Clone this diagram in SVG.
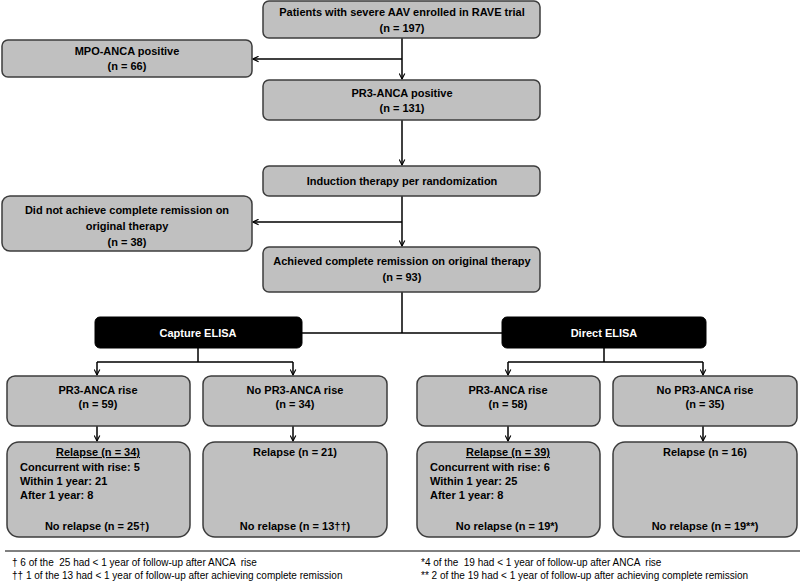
<svg xmlns="http://www.w3.org/2000/svg" width="800" height="581" viewBox="0 0 800 581">
<style>
.box{fill:#c0c0c0;stroke:#3c3c3c;stroke-width:1.5}
.blk{fill:#000;stroke:#000}
.t{font-family:"Liberation Sans",Arial,sans-serif;font-weight:bold;font-size:11px;fill:#000;text-anchor:middle}
.l{text-anchor:start}
.w{fill:#fff}
.fn{font-family:"Liberation Sans",Arial,sans-serif;font-size:10px;fill:#000}
.c{fill:none;stroke:#000;stroke-width:1.5}
</style>
<defs>
<marker id="ah" viewBox="0 0 10 10" refX="9" refY="5" markerWidth="7" markerHeight="7" markerUnits="userSpaceOnUse" orient="auto">
<path d="M1,1 L9,5 L1,9" fill="none" stroke="#000" stroke-width="1.6"/>
</marker>
</defs>
<rect width="800" height="581" fill="#fff"/>
<g id="connectors">
<path class="c" d="M402,38 V79" marker-end="url(#ah)"/>
<path class="c" d="M402,59 H253" marker-end="url(#ah)"/>
<path class="c" d="M402,120 V165" marker-end="url(#ah)"/>
<path class="c" d="M402,196 V246" marker-end="url(#ah)"/>
<path class="c" d="M402,222 H253" marker-end="url(#ah)"/>
<path class="c" d="M402,292 V333 M301,333 H502"/>
<path class="c" d="M198,348 V362 M97,362 H293"/>
<path class="c" d="M97,362 V375" marker-end="url(#ah)"/>
<path class="c" d="M293,362 V375" marker-end="url(#ah)"/>
<path class="c" d="M604,348 V362 M508,362 H703"/>
<path class="c" d="M508,362 V375" marker-end="url(#ah)"/>
<path class="c" d="M703,362 V375" marker-end="url(#ah)"/>
<path class="c" d="M97,426 V441" marker-end="url(#ah)"/>
<path class="c" d="M293,426 V441" marker-end="url(#ah)"/>
<path class="c" d="M508,426 V441" marker-end="url(#ah)"/>
<path class="c" d="M703,426 V441" marker-end="url(#ah)"/>
</g>
<g id="enrolled">
<rect class="box" x="263" y="1" width="277" height="37" rx="6"/>
<text class="t" x="402" y="16">Patients with severe AAV enrolled in RAVE trial</text>
<text class="t" x="402" y="32">(n = 197)</text>
</g>
<g id="mpo">
<rect class="box" x="2" y="40" width="250" height="37" rx="6"/>
<text class="t" x="127" y="55">MPO-ANCA positive</text>
<text class="t" x="127" y="70">(n = 66)</text>
</g>
<g id="pr3">
<rect class="box" x="263" y="80" width="277" height="40" rx="6"/>
<text class="t" x="402" y="97">PR3-ANCA positive</text>
<text class="t" x="402" y="112">(n = 131)</text>
</g>
<g id="induction">
<rect class="box" x="263" y="166" width="277" height="30" rx="6"/>
<text class="t" x="402" y="185">Induction therapy per randomization</text>
</g>
<g id="noremission">
<rect class="box" x="2" y="196" width="250" height="55" rx="8"/>
<text class="t" x="127" y="214">Did not achieve complete remission on</text>
<text class="t" x="127" y="230">original therapy</text>
<text class="t" x="127" y="246">(n = 38)</text>
</g>
<g id="remission">
<rect class="box" x="263" y="247" width="277" height="45" rx="6"/>
<text class="t" x="402" y="265">Achieved complete remission on original therapy</text>
<text class="t" x="402" y="281">(n = 93)</text>
</g>
<g id="capture">
<rect class="blk" x="95" y="317" width="207" height="31" rx="5"/>
<text class="t w" x="198" y="337">Capture ELISA</text>
</g>
<g id="direct">
<rect class="blk" x="502" y="317" width="204" height="31" rx="5"/>
<text class="t w" x="604" y="337">Direct ELISA</text>
</g>
<g id="cap-rise">
<rect class="box" x="7" y="376" width="183" height="50" rx="8"/>
<text class="t" x="98" y="394">PR3-ANCA rise</text>
<text class="t" x="98" y="408">(n = 59)</text>
</g>
<g id="cap-norise">
<rect class="box" x="203" y="376" width="184" height="50" rx="8"/>
<text class="t" x="295" y="394">No PR3-ANCA rise</text>
<text class="t" x="295" y="408">(n = 34)</text>
</g>
<g id="dir-rise">
<rect class="box" x="417" y="376" width="183" height="50" rx="8"/>
<text class="t" x="508" y="394">PR3-ANCA rise</text>
<text class="t" x="508" y="408">(n = 58)</text>
</g>
<g id="dir-norise">
<rect class="box" x="613" y="376" width="184" height="50" rx="8"/>
<text class="t" x="705" y="394">No PR3-ANCA rise</text>
<text class="t" x="705" y="408">(n = 35)</text>
</g>
<g id="cap-rise-out">
<rect class="box" x="7" y="442" width="183" height="95" rx="12"/>
<text class="t" x="98" y="456" text-decoration="underline">Relapse (n = 34)</text>
<text class="t l" x="20" y="471">Concurrent with rise: 5</text>
<text class="t l" x="20" y="485">Within 1 year: 21</text>
<text class="t l" x="20" y="499">After 1 year: 8</text>
<text class="t" x="97" y="530">No relapse (n = 25†)</text>
</g>
<g id="cap-norise-out">
<rect class="box" x="203" y="442" width="184" height="95" rx="12"/>
<text class="t" x="295" y="456">Relapse (n = 21)</text>
<text class="t" x="295" y="530">No relapse (n = 13††)</text>
</g>
<g id="dir-rise-out">
<rect class="box" x="417" y="442" width="183" height="95" rx="12"/>
<text class="t" x="508" y="456" text-decoration="underline">Relapse (n = 39)</text>
<text class="t l" x="430" y="471">Concurrent with rise: 6</text>
<text class="t l" x="430" y="485">Within 1 year: 25</text>
<text class="t l" x="430" y="499">After 1 year: 8</text>
<text class="t" x="507" y="530">No relapse (n = 19*)</text>
</g>
<g id="dir-norise-out">
<rect class="box" x="613" y="442" width="184" height="95" rx="12"/>
<text class="t" x="705" y="456">Relapse (n = 16)</text>
<text class="t" x="705" y="530">No relapse (n = 19**)</text>
</g>
<g id="footnotes">
<line x1="5" y1="551" x2="800" y2="551" stroke="#000" stroke-width="1"/>
<text class="fn" x="12" y="566" xml:space="preserve">† 6 of the  25 had &lt; 1 year of follow-up after ANCA  rise</text>
<text class="fn" x="12" y="579">†† 1 of the 13 had &lt; 1 year of follow-up after achieving complete remission</text>
<text class="fn" x="421" y="566" xml:space="preserve">*4 of the  19 had &lt; 1 year of follow-up after ANCA  rise</text>
<text class="fn" x="421" y="579">** 2 of the 19 had &lt; 1 year of follow-up after achieving complete remission</text>
</g>
</svg>
